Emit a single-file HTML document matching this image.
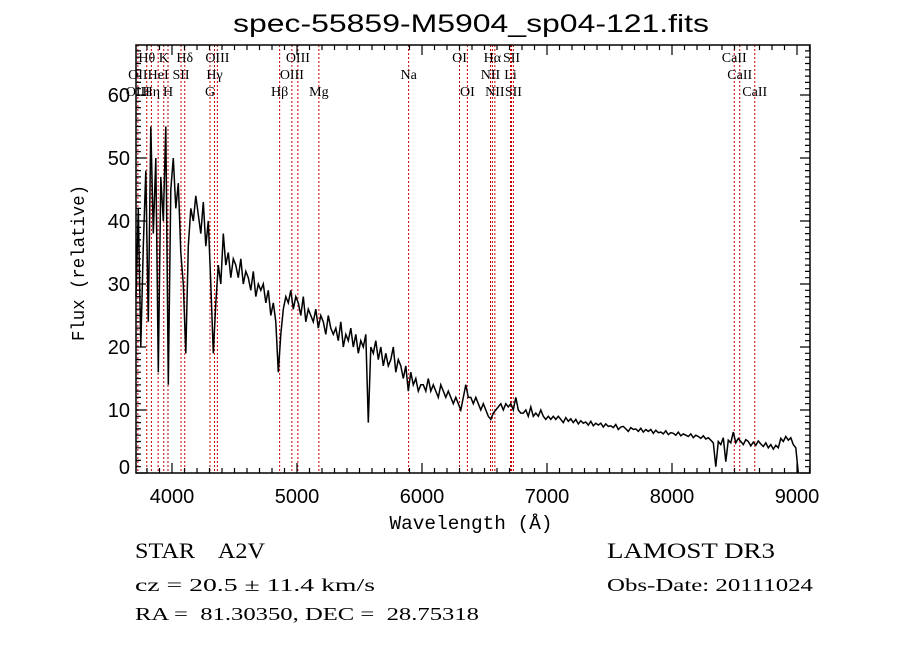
<!DOCTYPE html>
<html><head><meta charset="utf-8"><style>
html,body{margin:0;padding:0;background:#fff;}
svg{display:block;}
text{fill:#000;white-space:pre;}
</style></head><body>
<svg id="chart" width="900" height="649" viewBox="0 0 900 649" xmlns="http://www.w3.org/2000/svg" xml:space="preserve">
<rect x="0" y="0" width="900" height="649" fill="#fff"/>
<text x="471" y="32" text-anchor="middle" font-family="Liberation Sans, sans-serif" font-size="25" textLength="476" lengthAdjust="spacingAndGlyphs">spec-55859-M5904_sp04-121.fits</text>
<g id="lines"></g>
<g id="spec"></g>
<g id="axes"></g>
<text x="471" y="529" text-anchor="middle" font-family="Liberation Mono, monospace" font-size="19" textLength="163" lengthAdjust="spacingAndGlyphs">Wavelength (Å)</text>
<text transform="translate(84,263) rotate(-90)" text-anchor="middle" font-family="Liberation Mono, monospace" font-size="18" textLength="156" lengthAdjust="spacingAndGlyphs">Flux (relative)</text>
<text x="135" y="558" font-family="Liberation Serif, serif" font-size="22" textLength="130" lengthAdjust="spacingAndGlyphs">STAR    A2V</text>
<text x="607" y="558" font-family="Liberation Serif, serif" font-size="22" textLength="168" lengthAdjust="spacingAndGlyphs">LAMOST DR3</text>
<text x="135" y="591" font-family="Liberation Serif, serif" font-size="18" textLength="240" lengthAdjust="spacingAndGlyphs">cz = 20.5 ± 11.4 km/s</text>
<text x="607" y="591" font-family="Liberation Serif, serif" font-size="18" textLength="206" lengthAdjust="spacingAndGlyphs">Obs-Date: 20111024</text>
<text x="135" y="620" font-family="Liberation Serif, serif" font-size="18" textLength="344" lengthAdjust="spacingAndGlyphs">RA =  81.30350, DEC =  28.75318</text>
</svg>
<script>
const startWave = 3710;
const stepWave = 20;
const fluxValues = [
28,42,20,36,48, 24,55,38,50,16, 47,40,55,14,45, 50,42,46,35,30,
19,36,42,40,44, 41,38,43,36,40, 30,19,27,33,30, 38,33,35,31,34,
33,31,34,30,32, 31,29,32,28,30, 29,30,27,29,25, 27,24,16,22,26,
28,27,29,26,28, 27,25,28,24,26, 25,24,26,23,25, 24,22,25,23,22,
23,21,24,20,22, 21,23,20,22,19, 21,20,22,8,20, 19,21,18,20,17,
19,17,18,20,16, 18,17,15,17,13, 16,14,15,13,14, 14,13,15,13,14,
13,12,14,13,12, 13,12,11,12,11, 10,12,14,12,12, 11,12,11,10,11,
10,9,8.5,9.5,10, 10.5,11,10,11,10.5, 11,10,12,10,9.5, 9.5,10,9,10.5,9,
9.5,9,10,9,8.5, 9,8.5,9,8.5,9, 8.5,8,8.8,8.2,8.6, 8,8.5,7.8,8.3,7.9,
8.1,7.6,8.2,7.5,7.9, 7.6,7.9,7.3,7.8,7.4, 7.5,7.2,7.7,6.9,7.3, 7.4,7.0,6.6,7.2,6.9,
7.0,6.6,7.1,6.5,6.9, 6.6,6.9,6.3,6.8,6.4, 6.5,6.2,6.7,6.1,6.4, 6.3,6.0,6.5,5.9,6.2,
6.0,5.8,6.2,5.6,6.0, 5.8,5.5,5.9,5.4,5.6, 5.2,4.8,1.0,5.0,4.5, 5.6,1.8,5.2,4.8,6.5,
4.8,5.5,5.0,4.5,5.3, 5.0,4.3,4.9,4.4,5.1, 4.6,4.2,4.8,4.0,4.5, 3.8,4.4,4.0,5.5,5.0,
5.8,5.2,5.6,4.5,4.0, 0
];
const lineWaves = [3727,3798,3835,3889,3934,3968,4072,4102,4304,4340,4363,4861,4959,5007,5175,5893,6300,6363,6548,6563,6583,6708,6716,6731,8498,8542,8662];
const labelNames = ["Hθ","K","Hδ","OIII","OIII","OI","Hα","SII","CaII","OII","HeI","SII","Hγ","OIII","Na","NII","Li","CaII","OIII","Hη","H","G","Hβ","Mg","OI","NII","SII","CaII"];
const labelWaves = [3798,3934,4102,4363,5007,6300,6563,6716,8498,3727,3889,4072,4340,4959,5893,6548,6708,8542,3727,3835,3968,4304,4861,5175,6363,6583,6731,8662];
const labelRows = [0,0,0,0,0,0,0,0,0,1,1,1,1,1,1,1,1,1,2,2,2,2,2,2,2,2,2,2];
const xTicks = [4000,5000,6000,7000,8000,9000];
const yTicks = [0,10,20,30,40,50,60];

const NS='http://www.w3.org/2000/svg';
const L=136,R=810,T=45,B=473;
const xs=w=>172+(w-4000)*0.125;
const ys=f=>473-f*6.3;
function mk(tag,attrs,parent){const e=document.createElementNS(NS,tag);for(const k in attrs)e.setAttribute(k,attrs[k]);parent.appendChild(e);return e;}
const gl=document.getElementById('lines'),gs=document.getElementById('spec'),ga=document.getElementById('axes');
lineWaves.forEach(w=>{
  const l=mk('line',{x1:xs(w),x2:xs(w),y1:T,y2:B,stroke:'#c00000','stroke-width':1,'stroke-dasharray':'2,2'},gl);
  
  
});
labelNames.forEach((n,i)=>{
  const t=mk('text',{x:xs(labelWaves[i]),y:62+labelRows[i]*17,'text-anchor':'middle','font-family':'Liberation Serif, serif','font-size':14},gl);
  t.textContent=n;
  
  
});
let d='';
fluxValues.forEach((f,i)=>{
  const w=startWave+i*stepWave;
  d+=(i===0?'M':'L')+Math.max(L,xs(w)).toFixed(1)+','+ys(f).toFixed(1);
});
const p=mk('path',{d:d,fill:'none',stroke:'#000','stroke-width':1.5,'stroke-linejoin':'miter'},gs);


const frame=mk('rect',{x:L,y:T,width:R-L,height:B-T,fill:'none',stroke:'#000','stroke-width':1.5},ga);


let td='';
for(let w=3800;w<=9100;w+=100){const x=xs(w);const len=(w%1000===0)?10:5;td+=`M${x},${B}v${-len}M${x},${T}v${len}`;}
for(let f=0;f<=67;f++){const y=ys(f);const len=(f%10===0)?10:5;td+=`M${L},${y}h${len}M${R},${y}h${-len}`;}
const tk=mk('path',{d:td,stroke:'#000','stroke-width':1.2,fill:'none'},ga);


xTicks.forEach(v=>{
  const t=mk('text',{x:xs(v),y:503,'text-anchor':'middle','font-family':'Liberation Sans, sans-serif','font-size':20},ga);
  t.textContent=v;
  
  
});
yTicks.forEach(v=>{
  const t=mk('text',{x:130,y:Math.min(ys(v)+7,474),'text-anchor':'end','font-family':'Liberation Sans, sans-serif','font-size':20},ga);
  t.textContent=v;
  
  
});
</script>
</body></html>
